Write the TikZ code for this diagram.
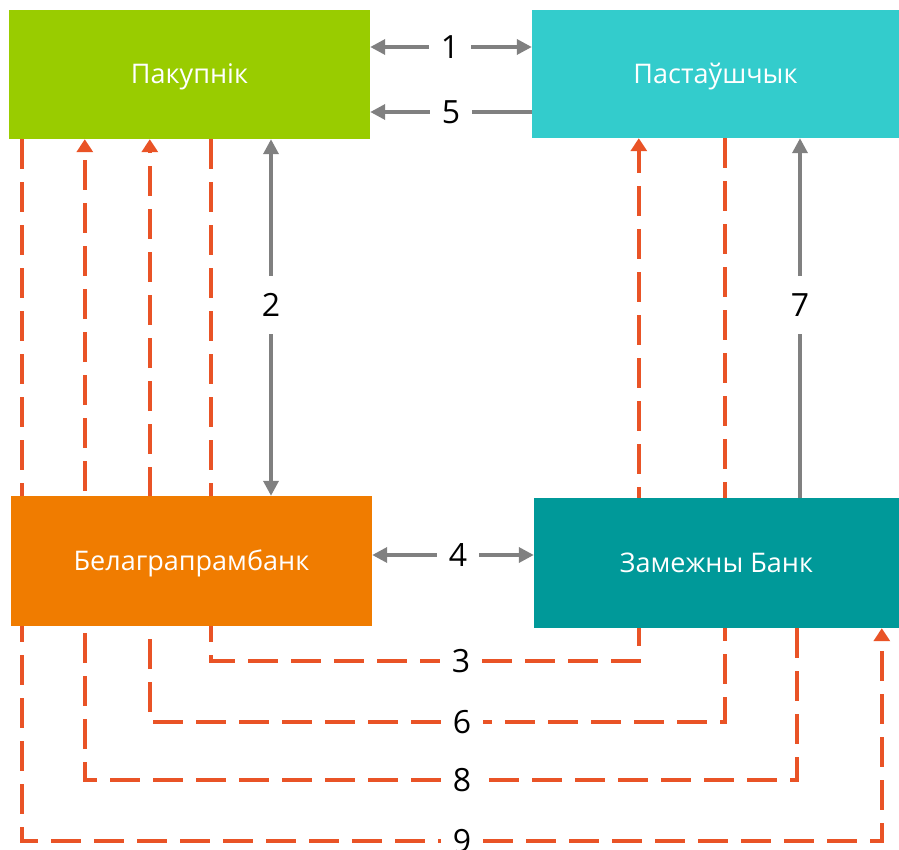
\documentclass[tikz,border=0pt]{standalone}
\usepackage{fontspec}
\setmainfont{Open Sans}
\usetikzlibrary{positioning,arrows.meta,backgrounds}

\definecolor{buyergreen}{RGB}{153,204,0}
\definecolor{suppliercyan}{RGB}{51,204,204}
\definecolor{bankorange}{RGB}{240,124,0}
\definecolor{bankteal}{RGB}{0,153,153}
\definecolor{linegray}{RGB}{128,128,128}
\definecolor{flowred}{RGB}{233,83,38}

\tikzset{
	party/.style={rectangle, inner sep=0pt, minimum width=361pt, minimum height=129pt,
		text height=19pt, text depth=0pt,
		text=white, font=\fontsize{27}{32}\selectfont},
	num/.style={rectangle, inner sep=0pt, minimum width=42pt, minimum height=58pt,
		font=\fontsize{32}{38}\selectfont},
	gline/.style={draw=linegray, line width=3.5pt, >={Triangle[length=15pt,width=15pt]}},
	fline/.style={draw=flowred, line width=3.5pt, dash pattern=on 30pt off 13pt,
		>={Triangle[length=13pt,width=16pt]}}
}

\begin{document}
\begin{tikzpicture}[x=1pt, y=-1pt]
		
		\useasboundingbox (0,0) rectangle (899,850);
		
		% Boxes
		\node[party, fill=buyergreen] (buyer) at (189.5,74.5) {Пакупнік};
		\node[party, fill=suppliercyan, minimum width=367pt, minimum height=128pt] (supplier) at (715.5,74) {Пастаўшчык};
		\node[party, fill=bankorange, minimum height=130pt] (bbank) at (191.5,561) {Белаграпрамбанк};
		\node[party, fill=bankteal, minimum width=365pt, minimum height=130pt] (fbank) at (716.5,563) {Замежны Банк};
		
		% Numbers
		\node[num] (n1) at (450,47) {1};
		\node[num] (n5) at (451,112) {5};
		\node[num] (n2) at (271,305) {2};
		\node[num] (n7) at (800,305) {7};
		\node[num] (n4) at (458,555) {4};
		\node[num] (n3) at (461,661) {3};
		\node[num] (n6) at (462,722) {6};
		\node[num] (n8) at (462,780) {8};
		\node[num] (n9) at (462,841) {9};
		
		\begin{scope}[on background layer]
		% Gray arrows
		\draw[gline, ->] (n1) -- (buyer.east |- n1);
		\draw[gline, ->] (n1) -- (supplier.west |- n1);
		\draw[gline] (supplier.west |- n5) -- (n5);
		\draw[gline, ->] (n5) -- (buyer.east |- n5);
		\draw[gline, ->] (n2) -- (buyer.south -| n2);
		\draw[gline, ->] (n2) -- (bbank.north -| n2);
		\draw[gline, ->] (n4) -- (bbank.east |- n4);
		\draw[gline, ->] (n4) -- (fbank.west |- n4);
		\draw[gline] (fbank.north -| n7) -- (n7);
		\draw[gline, ->] (n7) -- (supplier.south -| n7);
		
		% Dashed arrows
		\draw[fline, ->] ([xshift=202pt]buyer.south west) |- (n3) -| ([xshift=107pt]supplier.south west);
		\draw[fline, ->] ([xshift=193pt]supplier.south west) |- (n6) -| ([xshift=141pt]buyer.south west);
		\draw[fline, ->] ([xshift=263pt]fbank.south west) |- (n8) -| ([xshift=76pt]buyer.south west);
		\draw[fline, ->] ([xshift=13pt]buyer.south west) |- (n9) -| ([xshift=348pt]fbank.south west);
		\end{scope}
		
\end{tikzpicture}
\end{document}
